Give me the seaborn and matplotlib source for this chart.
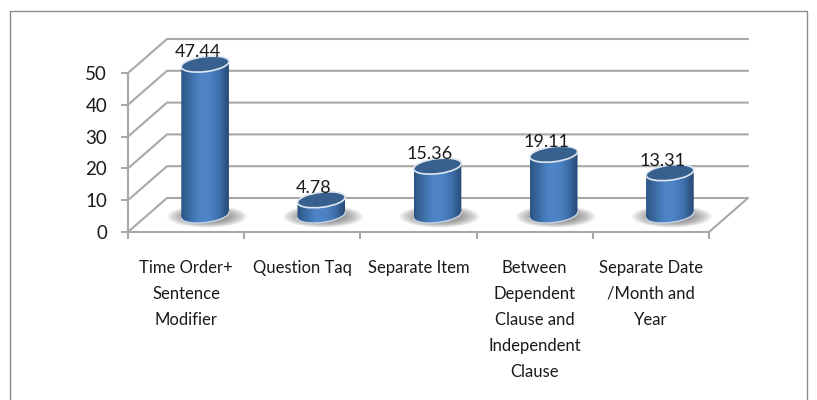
import numpy as np
import seaborn as sns
import matplotlib.pyplot as plt
from matplotlib.patches import Ellipse, PathPatch
from matplotlib.path import Path
from matplotlib.transforms import IdentityTransform
from matplotlib.colors import LinearSegmentedColormap

categories = ["Time Order+\nSentence\nModifier", "Question Taq", "Separate Item",
              "Between\nDependent\nClause and\nIndependent\nClause",
              "Separate Date\n/Month and\nYear"]
values = [47.44, 4.78, 15.36, 19.11, 13.31]
y_ticks = [0, 10, 20, 30, 40, 50]

sns.set_theme(style="white")
plt.rcParams['font.family'] = ['Lato', 'DejaVu Sans']

W, H = 817, 400
fig = plt.figure(figsize=(W / 100, H / 100), dpi=100, facecolor="white")


def px_axes(left, right, bottom, top):
    return fig.add_axes([left / W, 1 - bottom / H, (right - left) / W, (bottom - top) / H])


grey = "#a8a8a8"
txt = "#1a1a1a"

# outer frame
fig.add_artist(plt.Line2D([10 / W, 10 / W, 807 / W, 807 / W], [0, 1 - 11 / H, 1 - 11 / H, 0],
                          color="#8c8c8c", lw=1.0))

# front plane of the chart, holds axes and walls
ax = px_axes(128, 709, 232, 73)
ax.set_xlim(-0.5, 4.5)
ax.set_ylim(0, 50)
ax.patch.set_alpha(0)
sns.despine(ax=ax, top=True, right=True)
for s in ["left", "bottom"]:
    ax.spines[s].set_color(grey)
    ax.spines[s].set_linewidth(1.5)
ax.set_yticks(y_ticks)
ax.set_yticklabels([str(t) for t in y_ticks], fontsize=13.5, color=txt)
ax.set_xticks(range(len(categories)))
ax.set_xticklabels(categories, fontsize=12, color=txt, linespacing=1.78, va="top")
ax.set_xticks(np.arange(-0.5, 5), minor=True)
ax.tick_params(axis="x", which="major", length=0, pad=20)
ax.tick_params(axis="x", which="minor", length=5, width=1.5, color=grey, bottom=True)
ax.tick_params(axis="y", length=5, width=1.5, color=grey, left=True, pad=10)

dx = 39 / 116.2
dy = 34 / 3.18
for t in y_ticks:
    ax.plot([-0.5, -0.5 + dx, 4.5 + dx], [t, t + dy, t + dy], color=grey, lw=1.5,
            clip_on=False, solid_joinstyle="miter")
ax.plot([4.5, 4.5 + dx], [0, dy], color=grey, lw=1.5, clip_on=False)

# cylinders sit in a copy of the axes, pushed back into the depth
ax2 = px_axes(128 + 19, 709 + 19, 232 - 17, 73 - 17)
sns.barplot(x=list(range(len(values))), y=values, ax=ax2, color="#3f6ea6", width=0.41,
            linewidth=0, zorder=2)
ax2.set_xlim(-0.5, 4.5)
ax2.set_ylim(0, 50)
ax2.axis("off")

cmap = LinearSegmentedColormap.from_list("cyl", ["#2c5585", "#3d6ea8", "#4f85c8", "#4d83c5",
                                                  "#3f6fa9", "#264a76"])
grad = np.linspace(0, 1, 64).reshape(1, -1)
ew, eh, ang = 48, 15, 7
th = np.radians(ang)


def ell(cx, cy, t):
    # point on tilted ellipse, pixel coords (y up)
    x, y = ew / 2 * np.cos(t), eh / 2 * np.sin(t)
    return np.c_[cx + x * np.cos(th) - y * np.sin(th), cy + x * np.sin(th) + y * np.cos(th)]


for i, (bar, v) in enumerate(zip(ax2.patches, values)):
    bx, by = ax2.transData.transform((i, 0))
    tx, ty = ax2.transData.transform((i, v))

    # soft shadow on the floor
    for k in range(12):
        s = 1 - k * 0.045
        ax2.add_patch(Ellipse((bx + 2, by - 1.5), 80 * s, 22 * s, transform=IdentityTransform(),
                              fc="#555555", ec="none", alpha=0.07, zorder=1, clip_on=False))

    t1 = np.linspace(np.pi, 2 * np.pi, 40)
    t2 = np.linspace(0, np.pi, 40)
    pts = np.r_[ell(bx, by, t1), ell(tx, ty, t2)]
    clip = PathPatch(Path(np.r_[pts, pts[:1]], closed=True), transform=IdentityTransform(),
                     fc="none", ec="none", clip_on=False)
    ax2.add_patch(clip)
    bar.set_visible(False)
    x0 = bar.get_x()
    img = ax2.imshow(grad, cmap=cmap, aspect="auto", zorder=3,
                     extent=[x0, x0 + bar.get_width(), -4, v + 4])
    img.set_clip_box(fig.bbox)
    img.set_clip_path(clip)
    # thin pale rim at the bottom and the cap on top
    ax2.plot(*ell(bx, by, t1).T, transform=IdentityTransform(), color="#c9d6e6", lw=1.0,
             zorder=4, clip_on=False)
    ax2.add_patch(Ellipse((tx, ty), ew, eh, angle=ang, transform=IdentityTransform(),
                          fc="#37608f", ec="#dfe7f0", lw=1.2, zorder=5, clip_on=False))
    ax2.annotate(f"{v:.2f}", (tx, ty), xycoords=IdentityTransform(), xytext=(-5.5, 3),
                 textcoords="offset points", ha="center", va="bottom", fontsize=13,
                 color=txt, zorder=6, annotation_clip=False)

ax2.set_xlim(-0.5, 4.5)
ax2.set_ylim(0, 50)
fig.savefig("out.png", dpi=100)
